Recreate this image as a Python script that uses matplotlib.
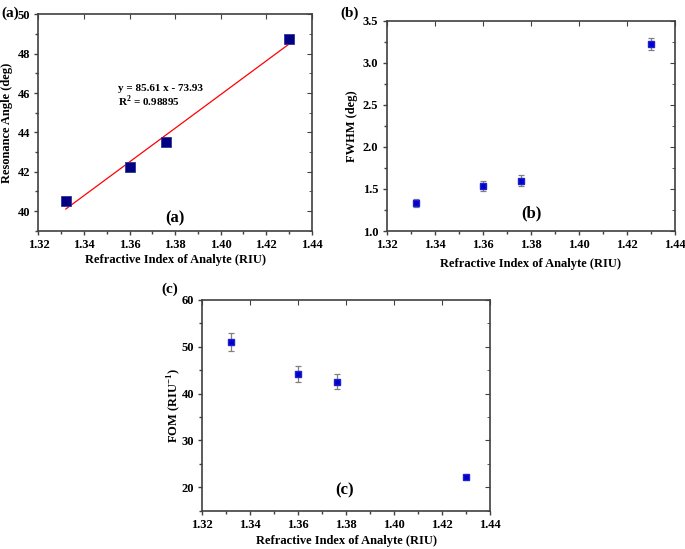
import matplotlib
matplotlib.use("Agg")
import matplotlib.pyplot as plt
from matplotlib.ticker import MultipleLocator, AutoMinorLocator, FormatStrFormatter

plt.rcParams['font.family'] = ['Liberation Serif', 'DejaVu Serif']
plt.rcParams['font.weight'] = 'bold'
plt.rcParams['mathtext.fontset'] = 'custom'
plt.rcParams['mathtext.rm'] = 'Liberation Serif:bold'
plt.rcParams['mathtext.bf'] = 'Liberation Serif:bold'

# data
ri = [1.332, 1.36, 1.376, 1.43]
res_angle = [40.5, 42.25, 43.5, 48.75]
fwhm = [1.33, 1.53, 1.60, 3.22]
fwhm_err = [0.05, 0.06, 0.06, 0.07]
fom = [51.0, 44.1, 42.5, 22.2]
fom_err = [1.9, 1.7, 1.6, 0.3]
fit_slope, fit_icept = 85.61, -73.93
xticks = [1.32, 1.34, 1.36, 1.38, 1.40, 1.42, 1.44]

SPINE = '#404040'
XLAB = 'Refractive Index of Analyte (RIU)'


def style(ax, ymaj):
    ax.set_xlim(1.32, 1.44)
    ax.set_xticks(xticks)
    ax.set_xticklabels([f"{t:.2f}" for t in xticks])
    ax.yaxis.set_major_locator(MultipleLocator(ymaj))
    ax.xaxis.set_minor_locator(AutoMinorLocator(2))
    ax.yaxis.set_minor_locator(AutoMinorLocator(2))
    for s in ax.spines.values():
        s.set_color(SPINE)
        s.set_linewidth(1.2)
    ax.tick_params(which='both', direction='out', top=False, right=False,
                   color=SPINE, width=1.0, labelsize=9)
    ax.tick_params(which='major', length=3, pad=3)
    ax.tick_params(which='minor', length=2)
    # inward ticks on top/right
    sec = ax.secondary_xaxis('top')
    sec.set_xticks(xticks)
    sec.tick_params(direction='in', length=3.5, color=SPINE, labeltop=False)
    sec.spines['top'].set_visible(False)
    secy = ax.secondary_yaxis('right')
    secy.yaxis.set_major_locator(MultipleLocator(ymaj))
    secy.yaxis.set_minor_locator(AutoMinorLocator(2))
    secy.tick_params(which='both', direction='in', color=SPINE, labelright=False)
    secy.tick_params(which='major', length=3.5)
    secy.tick_params(which='minor', length=2)
    secy.spines['right'].set_visible(False)
    for lab in ax.get_xticklabels() + ax.get_yticklabels():
        lab.set_fontweight('bold')


fig = plt.figure(figsize=(6.85, 5.49), dpi=100)

# (a)
axa = fig.add_axes([0.0562, 0.5798, 0.455 - 0.0562, 0.9736 - 0.5798])
fx = [ri[0], ri[-1]]
axa.plot(fx, [fit_slope * v + fit_icept for v in fx], color='red', lw=0.9)
axa.plot(ri, res_angle, 's', ms=7.5, color='#000080', mec='#3030a0', mew=0.6)
axa.set_ylim(39, 50)
style(axa, 2)
axa.set_ylabel('Resonance Angle (deg)', fontsize=9, fontweight='bold')
axa.set_xlabel(XLAB, fontsize=9, fontweight='bold')
axa.yaxis.set_label_coords(-0.095, 0.5)
axa.xaxis.set_label_coords(0.5, -0.108)
axa.text(1.355, 46.26, 'y = 85.61 x - 73.93', fontsize=8, fontweight='bold', va='center')
axa.text(1.355, 45.56, 'R$^2$ = 0.98895', fontsize=8, fontweight='bold', va='center')
axa.text(1.38, 39.64, '(a)', fontsize=12, fontweight='bold', ha='center', va='center')

# (b)
axb = fig.add_axes([0.5645, 0.5792, 0.9854 - 0.5645, 0.9623 - 0.5792])
axb.errorbar(ri, fwhm, yerr=fwhm_err, fmt='s', ms=5, color='#0000cc', mec='#2020d0',
             ecolor='#808080', elinewidth=0.9, capsize=2, capthick=0.9)
axb.set_ylim(1.0, 3.5)
style(axb, 0.5)
axb.yaxis.set_major_formatter(FormatStrFormatter('%.1f'))
axb.set_ylabel('FWHM (deg)', fontsize=9, fontweight='bold')
axb.set_xlabel(XLAB, fontsize=9, fontweight='bold')
axb.yaxis.set_label_coords(-0.098, 0.5)
axb.xaxis.set_label_coords(0.5, -0.13)
axb.text(1.3804, 1.214, '(b)', fontsize=12, fontweight='bold', ha='center', va='center')

# (c)
axc = fig.add_axes([0.2953, 0.0698, 0.7153 - 0.2953, 0.4536 - 0.0698])
axc.errorbar(ri, fom, yerr=fom_err, fmt='s', ms=5, color='#0000cc', mec='#2020d0',
             ecolor='#808080', elinewidth=0.9, capsize=2, capthick=0.9)
axc.set_ylim(15, 60)
style(axc, 10)
axc.set_ylabel('FOM (RIU$^{-1}$)', fontsize=9, fontweight='bold')
axc.set_xlabel(XLAB, fontsize=9, fontweight='bold')
axc.yaxis.set_label_coords(-0.068, 0.5)
axc.xaxis.set_label_coords(0.5, -0.115)
axc.text(1.3795, 19.4, '(c)', fontsize=12, fontweight='bold', ha='center', va='center')

fig.text(0.002, 0.988, '(a)', fontsize=11, fontweight='bold', va='top')
fig.text(0.497, 0.988, '(b)', fontsize=11, fontweight='bold', va='top')
fig.text(0.235, 0.485, '(c)', fontsize=11, fontweight='bold', va='top')

fig.savefig('out.png', dpi=100)
